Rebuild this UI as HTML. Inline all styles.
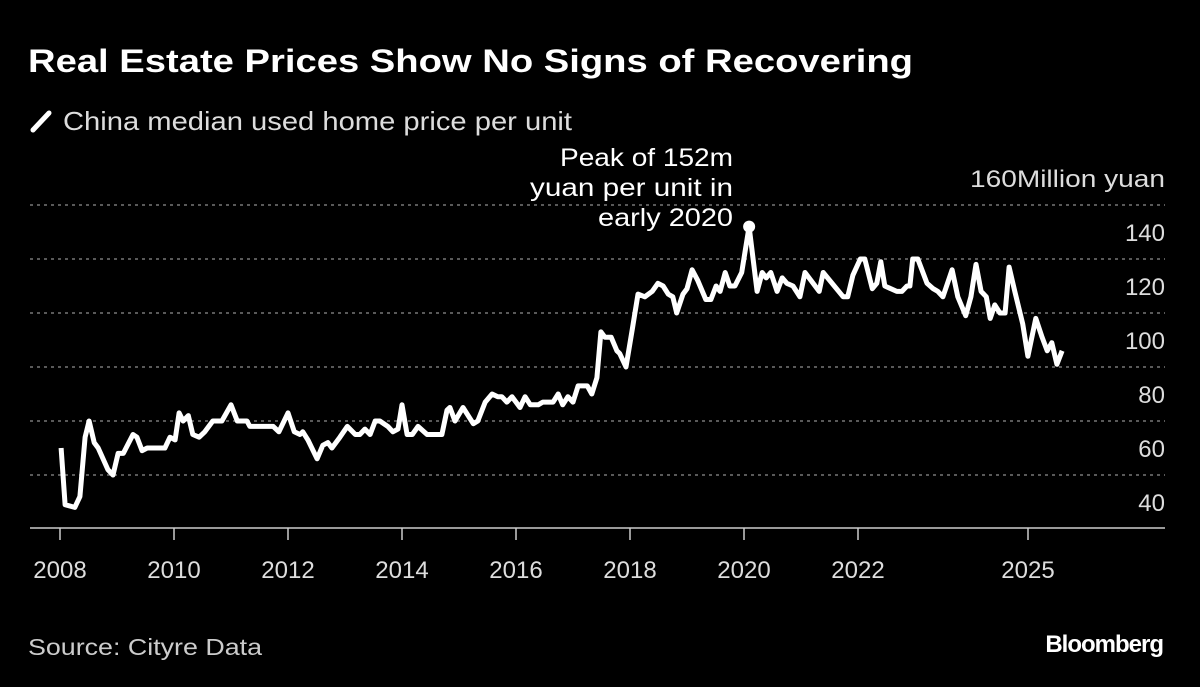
<!DOCTYPE html>
<html><head><meta charset="utf-8"><style>
body{margin:0;background:#000;width:1200px;height:687px;overflow:hidden;font-family:"Liberation Sans",sans-serif;color:#fff}
svg{display:block}
</style></head><body>
<svg width="1200" height="687">
<text x="28" y="72" font-size="32" font-weight="bold" fill="#fff" textLength="885" lengthAdjust="spacingAndGlyphs">Real Estate Prices Show No Signs of Recovering</text>
<g>
<line x1="33" y1="130" x2="49" y2="113" stroke="#fff" stroke-width="5" stroke-linecap="round"/>
<text x="63" y="130" font-size="26" fill="#ddd" textLength="509" lengthAdjust="spacingAndGlyphs">China median used home price per unit</text>
</g>
<g id="grid"></g>
<g id="yl"></g>
<g id="xl"></g>
<path id="ln" fill="none" stroke="#fff" stroke-width="5" stroke-linejoin="round"/>
<circle id="pk" r="6" fill="#fff"/>
<g font-size="25" fill="#fff" text-anchor="end">
<text x="733" y="166" textLength="173" lengthAdjust="spacingAndGlyphs">Peak of 152m</text><text x="733" y="196" textLength="203" lengthAdjust="spacingAndGlyphs">yuan per unit in</text><text x="733" y="226" textLength="135" lengthAdjust="spacingAndGlyphs">early 2020</text>
</g>
<text x="28" y="655" font-size="23" fill="#ccc" textLength="234" lengthAdjust="spacingAndGlyphs">Source: Cityre Data</text>
<text x="1163" y="652" font-size="24" font-weight="bold" fill="#fff" text-anchor="end" letter-spacing="-1">Bloomberg</text>
</svg>
<script>
const dates=[2008.02,2008.09,2008.26,2008.35,2008.44,2008.51,2008.60,2008.67,2008.84,2008.93,2009.02,2009.11,2009.28,2009.35,2009.44,2009.53,2009.84,2009.93,2010.02,2010.09,2010.16,2010.25,2010.33,2010.44,2010.54,2010.68,2010.84,2011.00,2011.11,2011.28,2011.33,2011.74,2011.84,2012.00,2012.11,2012.21,2012.26,2012.35,2012.51,2012.61,2012.70,2012.77,2012.91,2013.04,2013.18,2013.26,2013.35,2013.44,2013.53,2013.61,2013.75,2013.84,2013.93,2014.00,2014.09,2014.18,2014.28,2014.44,2014.70,2014.79,2014.84,2014.93,2015.07,2015.25,2015.33,2015.46,2015.58,2015.68,2015.75,2015.84,2015.93,2016.07,2016.16,2016.25,2016.39,2016.47,2016.65,2016.74,2016.82,2016.91,2017.00,2017.09,2017.25,2017.33,2017.42,2017.49,2017.56,2017.67,2017.77,2017.82,2017.93,2018.04,2018.14,2018.26,2018.39,2018.49,2018.58,2018.67,2018.75,2018.82,2018.93,2019.00,2019.09,2019.19,2019.33,2019.42,2019.51,2019.58,2019.67,2019.75,2019.84,2019.96,2020.09,2020.23,2020.32,2020.39,2020.47,2020.58,2020.67,2020.75,2020.86,2020.98,2021.07,2021.32,2021.39,2021.74,2021.82,2021.91,2022.04,2022.12,2022.25,2022.33,2022.40,2022.47,2022.68,2022.77,2022.86,2022.91,2022.96,2023.05,2023.21,2023.32,2023.40,2023.49,2023.65,2023.75,2023.89,2023.98,2024.07,2024.16,2024.25,2024.32,2024.40,2024.49,2024.58,2024.65,2024.75,2024.89,2024.98,2025.12,2025.23,2025.32,2025.40,2025.49,2025.58];
const values=[70,49,48,52,74,80,72,70,62,60,68,68,75,74,69,70,70,74,73,83,80,82,75,74,76,80,80,86,80,80,78,78,76,83,76,75,76,73,66,71,72,70,74,78,75,75,77,75,80,80,78,76,77,86,75,75,78,75,75,84,85,80,85,79,80,87,90,89,89,87,89,85,89,86,86,87,87,90,86,89,87,93,93,90,96,113,111,111,106,105,100,114,127,126,128,131,130,127,126,120,127,129,136,132,125,125,130,128,135,130,130,135,152,128,135,133,135,128,133,131,130,126,135,128,135,126,126,134,140,140,129,131,139,130,128,128,130,130,140,140,131,129,128,126,136,126,119,126,138,128,126,118,123,120,120,137,128,116,104,118,111,106,109,101,106];
const yTicks=[40,60,80,100,120,140,160];
const xTicks=[2008,2010,2012,2014,2016,2018,2020,2022,2025];
const xs=d=>60+(d-2008)*57;
const ys=v=>421-(v-80)*2.7;
const NS="http://www.w3.org/2000/svg";
function mk(t,a,p){const e=document.createElementNS(NS,t);for(const k in a)e.setAttribute(k,a[k]);p.appendChild(e);return e;}
const g=document.getElementById('grid'),yl=document.getElementById('yl'),xl=document.getElementById('xl');
yTicks.forEach(v=>{
 if(v>40){const l=mk('line',{x1:30,x2:1165,y1:ys(v),y2:ys(v),stroke:'#777','stroke-width':1.5,'stroke-dasharray':'3,4'},g);
 
 }
 const a={x:1165,y:ys(v)-18,'font-size':24,fill:'#ddd','text-anchor':'end'};
 if(v===160){a.textLength=195;a.lengthAdjust='spacingAndGlyphs';}
 const t=mk('text',a,yl);
 
 
 t.textContent=v===160?'160Million yuan':String(v);
});
const ax=mk('line',{x1:30,x2:1165,y1:528,y2:528,stroke:'#ccc','stroke-width':1.5},xl);


xTicks.forEach(y=>{
 const x=xs(y)-(y===2025?1:0);
 const tk=mk('line',{x1:x,x2:x,y1:528,y2:540,stroke:'#ccc','stroke-width':1.5},xl);
 
 
 const t=mk('text',{x:x,y:578,'font-size':24,fill:'#ddd','text-anchor':'middle'},xl);
 
 
 t.textContent=y;
});
document.getElementById('ln').setAttribute('d',dates.map((d,i)=>(i?'L':'M')+xs(d).toFixed(1)+','+ys(values[i]).toFixed(1)).join(''));
let mi=0;values.forEach((v,i)=>{if(v>values[mi])mi=i;});
const pk=document.getElementById('pk');pk.setAttribute('cx',xs(dates[mi]));pk.setAttribute('cy',ys(values[mi]));
</script>
</body></html>
